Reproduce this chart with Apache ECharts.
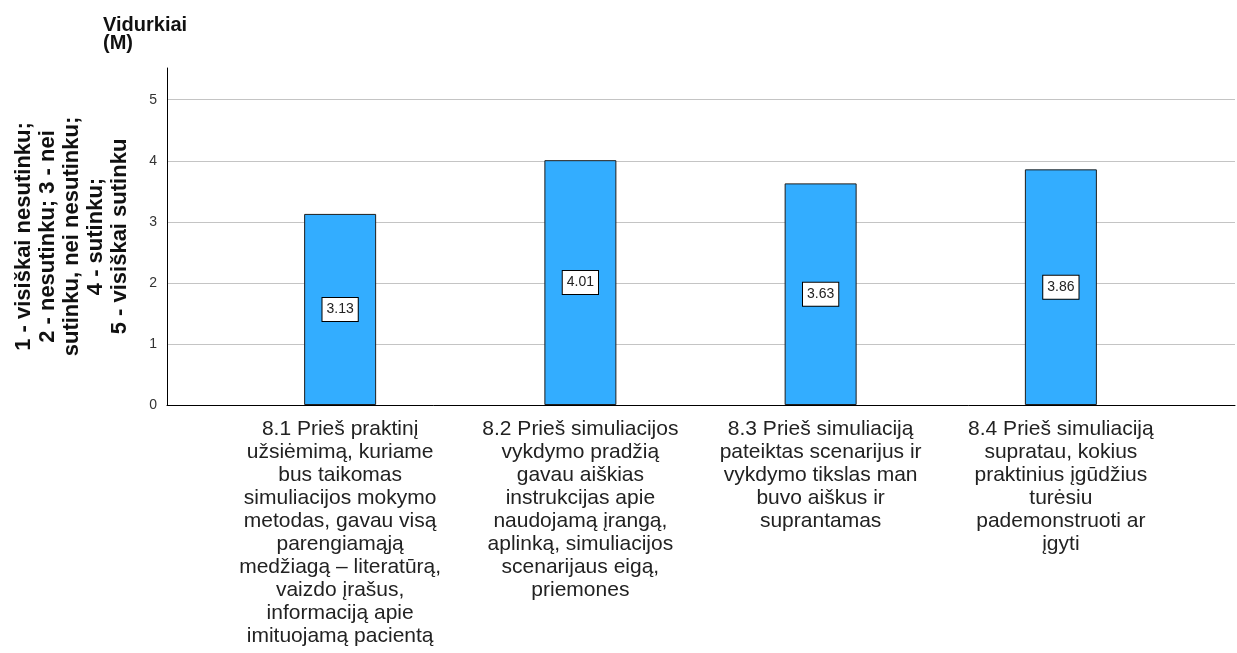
<!DOCTYPE html>
<html>
<head>
<meta charset="utf-8">
<script src="https://cdn.jsdelivr.net/npm/echarts@6/dist/echarts.min.js"></script>
<style>html,body{margin:0;padding:0;background:#fff}#c{width:1237px;height:653px}</style>
</head>
<body>
<div id="c"></div>
<script>
const categories = [
  "8.1 Prieš praktinį\nužsiėmimą, kuriame\nbus taikomas\nsimuliacijos mokymo\nmetodas, gavau visą\nparengiamąją\nmedžiagą – literatūrą,\nvaizdo įrašus,\ninformaciją apie\nimituojamą pacientą",
  "8.2 Prieš simuliacijos\nvykdymo pradžią\ngavau aiškias\ninstrukcijas apie\nnaudojamą įrangą,\naplinką, simuliacijos\nscenarijaus eigą,\npriemones",
  "8.3 Prieš simuliaciją\npateiktas scenarijus ir\nvykdymo tikslas man\nbuvo aiškus ir\nsuprantamas",
  "8.4 Prieš simuliaciją\nsupratau, kokius\npraktinius įgūdžius\nturėsiu\npademonstruoti ar\nįgyti"
];
const means = [3.13, 4.01, 3.63, 3.86];
const yTicks = [0, 1, 2, 3, 4, 5];
const yMin = 0, yMax = 5.52;
const yTitle = "Vidurkiai\n(M)";
const yAxisName = "1 - visiškai nesutinku;\n2 - nesutinku; 3 - nei\nsutinku, nei nesutinku;\n4 - sutinku;\n5 - visiškai sutinku";

const chart = echarts.init(document.getElementById('c'), null, {renderer: 'canvas'});
const font = 'Liberation Sans, Arial, sans-serif';
chart.setOption({
  backgroundColor: '#ffffff',
  animation: false,
  title: {
    text: yTitle, left: 98, top: 11,
    textStyle: {fontFamily: font, fontWeight: 'bold', fontSize: 20, lineHeight: 18, color: '#111'}
  },
  grid: [
    {left: 167, right: 2, top: 68, bottom: 248},
    {left: 220, right: 56, top: 68, bottom: 248}
  ],
  xAxis: [
    {gridIndex: 0, type: 'value', min: 0, max: 1, axisLabel: {show: false}, axisTick: {show: false}, splitLine: {show: false},
     axisLine: {show: true, lineStyle: {color: '#000', width: 1}}},
    {gridIndex: 1, type: 'category', data: categories, axisLine: {show: false}, axisTick: {show: false},
     axisLabel: {interval: 0, margin: 13, fontFamily: font, fontSize: 21, lineHeight: 23, color: '#222', align: 'center'}}
  ],
  yAxis: [
    {gridIndex: 0, type: 'value', min: yMin, max: yMax, interval: 1,
     axisLine: {show: true, lineStyle: {color: '#000', width: 1}}, axisTick: {show: false},
     axisLabel: {margin: 10, fontFamily: font, fontSize: 14, color: '#333', showMaxLabel: false,
       formatter: v => yTicks.indexOf(v) >= 0 ? String(v) : ''},
     splitLine: {show: true, showMinLine: false, showMaxLine: false, lineStyle: {color: '#c4c4c4', width: 1}},
     name: yAxisName, nameLocation: 'middle', nameRotate: 90, nameGap: 35,
     nameTextStyle: {fontFamily: font, fontWeight: 'bold', fontSize: 22, lineHeight: 24, color: '#111', align: 'center'}},
    {gridIndex: 1, type: 'value', min: yMin, max: yMax, show: false, splitLine: {show: false}}
  ],
  series: [{
    type: 'bar', xAxisIndex: 1, yAxisIndex: 1, data: means, barWidth: 72,
    itemStyle: {color: '#33adff', borderColor: '#1e1e1e', borderWidth: 1},
    label: {show: true, position: 'inside', formatter: p => p.value.toFixed(2), fontFamily: font, fontSize: 14, color: '#222',
      backgroundColor: '#fff', borderColor: '#000', borderWidth: 1, padding: [5, 4, 4, 4]}
  }]
});
</script>
</body>
</html>
